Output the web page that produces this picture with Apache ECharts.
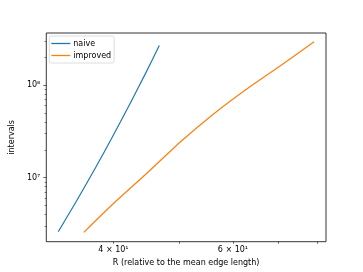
<!DOCTYPE html>
<html><head><meta charset="utf-8">
<script src="https://cdn.jsdelivr.net/npm/echarts@6/dist/echarts.min.js"></script>
<style>html,body{margin:0;padding:0;background:#fff}#c{width:363px;height:272px}</style>
</head><body><div id="c"></div>
<script>
const naiveR = [33.17, 35.17, 37.64, 40.0, 42.37, 44.59, 46.74];
const naiveIntervals = [2.615e6, 5.374e6, 1.279e7, 2.888e7, 6.41e7, 1.327e8, 2.668e8];
const improvedR = [36.18, 40.04, 44.85, 50.19, 56.19, 62.89, 70.41, 79.03];
const improvedIntervals = [2.576e6, 5.294e6, 1.124e7, 2.428e7, 4.868e7, 9.055e7, 1.603e8, 2.932e8];
const xTickValues = [40, 50, 60, 70, 80];
const xLabelValues = [40, 60];
const yMajorValues = [1e7, 1e8];
const yMinorValues = [3e6,4e6,5e6,6e6,7e6,8e6,9e6,2e7,3e7,4e7,5e7,6e7,7e7,8e7,9e7,2e8,3e8];
const supers = {'0':'⁰','1':'¹','2':'²','3':'³','4':'⁴','5':'⁵','6':'⁶','7':'⁷','8':'⁸','9':'⁹'};

const font = 'DejaVu Sans';
const chart = echarts.init(document.getElementById('c'), null, {renderer: 'canvas'});
const zip = (a, b) => a.map((v, i) => [v, b[i]]);
const X_MIN = 31.85, X_MAX = 82.3, Y_MIN = 2.04e6, Y_MAX = 3.64e8;
chart.setOption({
  animation: false,
  textStyle: {fontFamily: font, color: '#000'},
  grid: {left: 45.7, right: 37, top: 33, bottom: 30.3, show: true, borderColor: '#000', borderWidth: 0.8, backgroundColor: 'transparent'},
  legend: {
    orient: 'vertical', left: 49.3, top: 36,
    icon: 'rect', itemWidth: 19, itemHeight: 1.3, itemGap: 2,
    padding: [2.5, 3, 2.5, 2],
    borderColor: '#d6d6d6', borderWidth: 0.8, borderRadius: 2,
    backgroundColor: 'rgba(255,255,255,0.8)',
    textStyle: {fontFamily: font, fontSize: 8, color: '#000', lineHeight: 10, padding: [0,0,0,-2]},
    data: ['naive', 'improved']
  },
  xAxis: {
    type: 'log', min: X_MIN, max: X_MAX,
    name: 'R (relative to the mean edge length)', nameLocation: 'middle', nameGap: 15,
    nameTextStyle: {fontFamily: font, fontSize: 8, color: '#000'},
    axisLine: {show: false},
    axisTick: {show: true, length: 2, customValues: xTickValues, lineStyle: {color: '#000', width: 0.6}},
    axisLabel: {customValues: xLabelValues, fontFamily: font, fontSize: 8, color: '#000', margin: 4,
      formatter: v => (Math.round(v / 10)) + ' × 10¹'},
    splitLine: {show: false}, minorTick: {show: false}
  },
  yAxis: [{
    type: 'log', min: Y_MIN, max: Y_MAX, position: 'left',
    name: 'intervals', nameLocation: 'middle', nameGap: 25, nameRotate: 90,
    nameTextStyle: {fontFamily: font, fontSize: 8, color: '#000'},
    axisLine: {show: false},
    axisTick: {show: true, length: 3, customValues: yMajorValues, lineStyle: {color: '#000', width: 0.6}},
    axisLabel: {customValues: yMajorValues, fontFamily: font, fontSize: 8, color: '#000', margin: 6,
      formatter: v => '10' + String(Math.round(Math.log10(v))).split('').map(c => supers[c]).join('')},
    splitLine: {show: false}
  }, {
    type: 'log', min: Y_MIN, max: Y_MAX, position: 'left', offset: 0,
    axisLine: {show: false},
    axisTick: {show: true, length: 1.7, customValues: yMinorValues, lineStyle: {color: '#000', width: 0.5}},
    axisLabel: {show: false},
    splitLine: {show: false}
  }],
  series: [
    {name: 'naive', type: 'line', data: zip(naiveR, naiveIntervals), showSymbol: false, smooth: 0.2,
     lineStyle: {color: '#1f77b4', width: 1.2}, itemStyle: {color: '#1f77b4'}},
    {name: 'improved', type: 'line', data: zip(improvedR, improvedIntervals), showSymbol: false, smooth: 0.2,
     lineStyle: {color: '#ff7f0e', width: 1.2}, itemStyle: {color: '#ff7f0e'}}
  ]
});
</script></body></html>
